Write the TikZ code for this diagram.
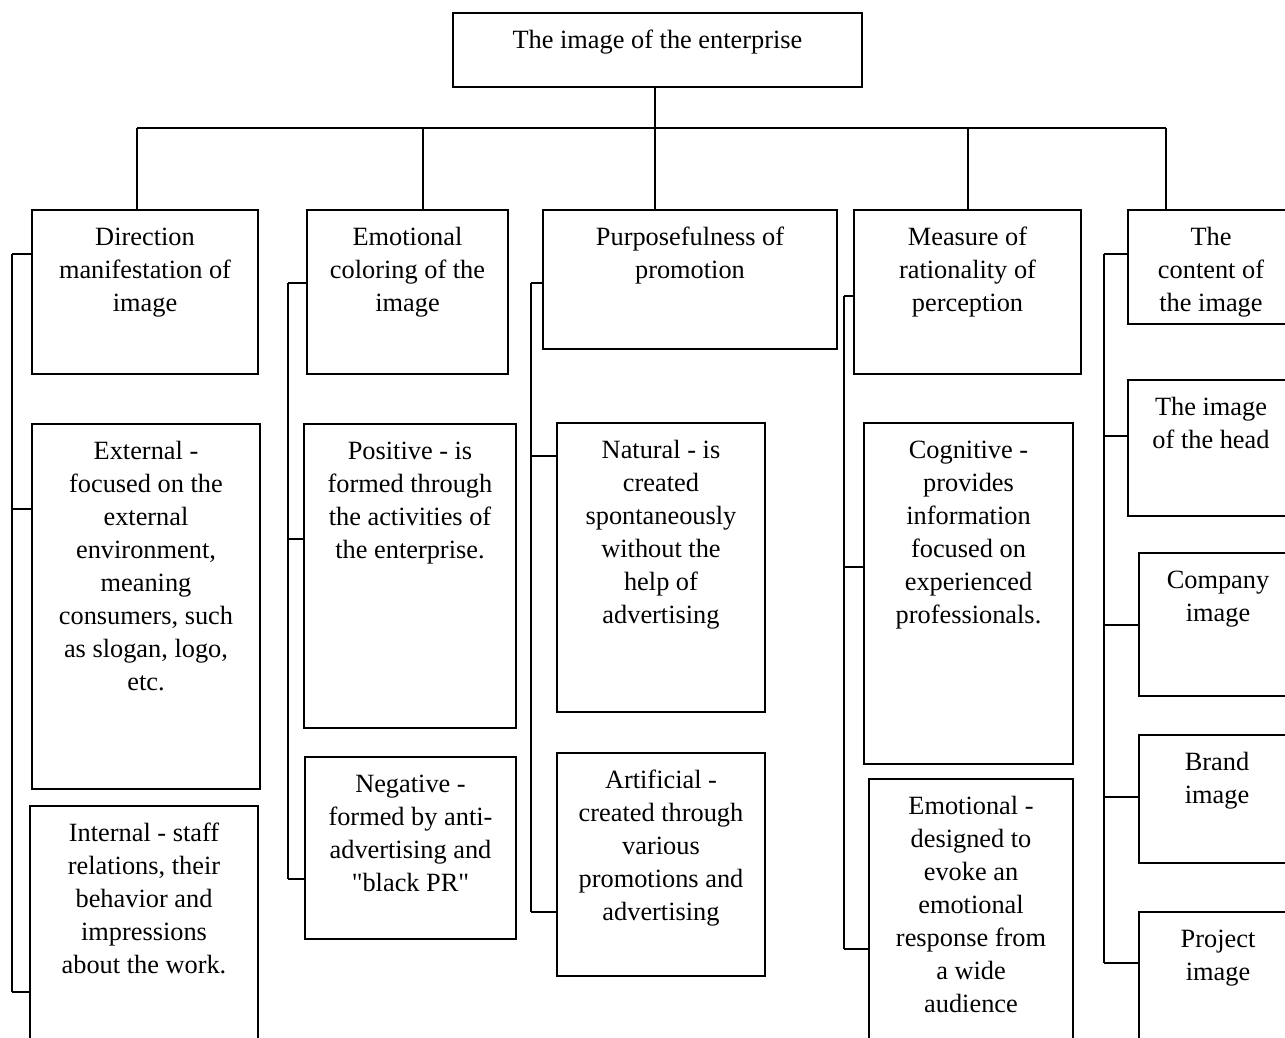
\documentclass[tikz,border=0pt]{standalone}
\usepackage{fontspec}
\setmainfont{Liberation Serif}[Ligatures=TeXOff]
\usepackage{tikz}
\usetikzlibrary{positioning}
\newlength{\pxu}
\setlength{\pxu}{0.02cm}
\newcommand{\cell}[3]{\parbox[t][#2\pxu][t]{#1\pxu}{\fontsize{15pt}{33\pxu}\selectfont\centering\rule{0pt}{35\pxu}#3\par}}

\begin{document}
\begin{tikzpicture}[x=0.02cm, y=-0.02cm, line width=0.8pt,
  cellbox/.style={draw, inner sep=0pt, outer sep=0pt, anchor=north west}]
  \clip (0,0) rectangle (1285,1038);

  \node[cellbox] (top) at (453,13) {\cell{409}{74}{The image of the enterprise}};

  \node[cellbox] (dir) at (32,210) {\cell{226}{164}{Direction\\manifestation of\\image}};
  \node[cellbox] (emo) at (307,210) {\cell{201}{164}{Emotional\\coloring of the\\image}};
  \node[cellbox] (pur) at (543,210) {\cell{294}{139}{Purposefulness of\\promotion}};
  \node[cellbox] (mea) at (854,210) {\cell{227}{164}{Measure of\\rationality of\\perception}};
  \node[cellbox] (con) at (1128,210) {\cell{166}{114}{The\\content of\\the image}};

  \node[cellbox] (ext) at (32,424) {\cell{228}{365}{External -\\focused on the\\external\\environment,\\meaning\\consumers, such\\as slogan, logo,\\etc.}};
  \node[cellbox] (int) at (30,806) {\cell{228}{260}{Internal - staff\\relations, their\\behavior and\\impressions\\about the work.}};

  \node[cellbox] (pos) at (304,424) {\cell{212}{304}{Positive - is\\formed through\\the activities of\\the enterprise.}};
  \node[cellbox] (neg) at (305,757) {\cell{211}{182}{Negative -\\formed by anti-\\advertising and\\"black PR"}};

  \node[cellbox] (nat) at (557,423) {\cell{208}{289}{Natural - is\\created\\spontaneously\\without the\\help of\\advertising}};
  \node[cellbox] (art) at (557,753) {\cell{208}{223}{Artificial -\\created through\\various\\promotions and\\advertising}};

  \node[cellbox] (cog) at (864,423) {\cell{209}{341}{Cognitive -\\provides\\information\\focused on\\experienced\\professionals.}};
  \node[cellbox] (emr) at (869,779) {\cell{204}{280}{Emotional -\\designed to\\evoke an\\emotional\\response from\\a wide\\audience}};

  \node[cellbox] (head) at (1128,380) {\cell{166}{136}{The image\\of the head}};
  \node[cellbox] (comp) at (1139,553) {\cell{158}{143}{Company\\image}};
  \node[cellbox] (brand) at (1139,735) {\cell{156}{128}{Brand\\image}};
  \node[cellbox] (proj) at (1139,912) {\cell{158}{150}{Project\\image}};

  % top bus
  \foreach \b/\x in {dir/137, emo/423, pur/655, mea/968, con/1166} {
    \coordinate (j\b) at (\x,128);
    \draw (j\b) -- (j\b |- \b.north);
  }
  \draw (jdir) -- (jcon);
  \draw (top.south -| jpur) -- (jpur);

  % side brackets
  \foreach \b/\x/\y in {dir/12/254, ext/12/509, int/12/992,
                        emo/288/283, pos/288/539, neg/288/879,
                        pur/531/283, nat/531/456, art/531/912,
                        mea/844/296, cog/844/567, emr/844/949,
                        con/1104/254, head/1104/436, comp/1104/625, brand/1104/797, proj/1104/963} {
    \coordinate (t\b) at (\x,\y);
    \draw (t\b) -- (t\b -| \b.west);
  }
  \draw (tdir) -- (tint);
  \draw (temo) -- (tneg);
  \draw (tpur) -- (tart);
  \draw (tmea) -- (temr);
  \draw (tcon) -- (tproj);
\end{tikzpicture}
\end{document}
